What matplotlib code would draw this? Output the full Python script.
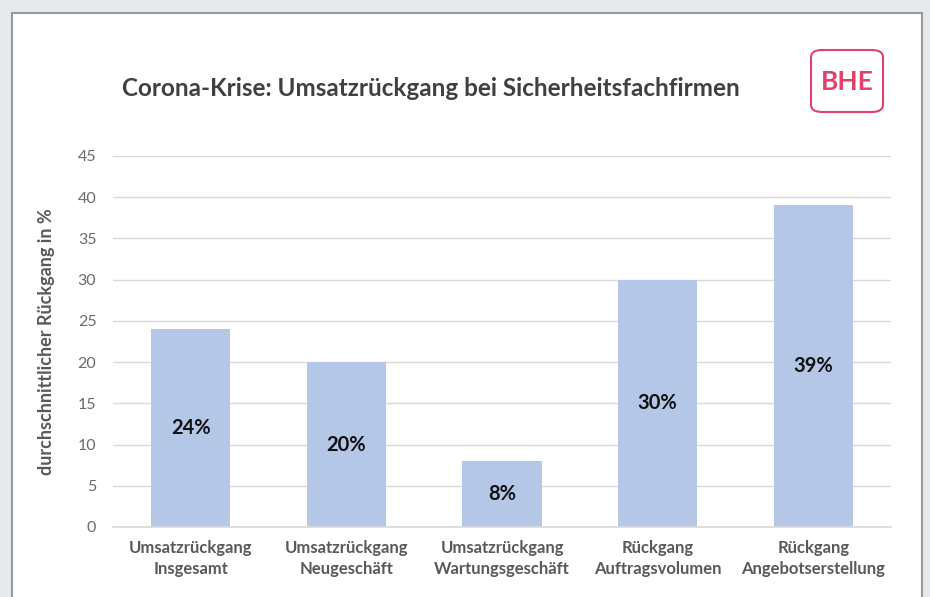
import numpy as np
import matplotlib.pyplot as plt
from matplotlib.patches import Rectangle, FancyBboxPatch

# Data
categories = ['Umsatzrückgang\nInsgesamt', 'Umsatzrückgang\nNeugeschäft',
              'Umsatzrückgang\nWartungsgeschäft', 'Rückgang\nAuftragsvolumen',
              'Rückgang\nAngebotserstellung']
values = [24, 20, 8, 30, 39]
value_labels = ['24%', '20%', '8%', '30%', '39%']

plt.rcParams['font.family'] = ['Lato', 'DejaVu Sans']

W, H = 930, 597
fig = plt.figure(figsize=(W / 100, H / 100), dpi=100)
fig.patch.set_facecolor('#e6e9ee')

# white panel with grey border
panel = Rectangle((12 / W, -0.05), 910 / W, 1 - 13 / H + 0.05, transform=fig.transFigure,
                  facecolor='white', edgecolor='#9a9a9a', linewidth=1.5, zorder=-5)
fig.patches.append(panel)

ax = fig.add_axes([113 / W, 1 - 527 / H, 778 / W, 371 / H])
ax.set_facecolor('none')
ax.set_zorder(2)

x = np.arange(len(categories))
ax.bar(x, values, width=0.51, color='#b4c7e7', zorder=2)
for xi, v, lab in zip(x, values, value_labels):
    ax.text(xi, v / 2, lab, ha='center', va='center', fontsize=14.5,
            fontweight='bold', color='#111111', zorder=3)

ax.set_xlim(-0.5, len(categories) - 0.5)
ax.set_ylim(0, 45)
ax.set_yticks(range(0, 46, 5))
ax.yaxis.grid(True, color='#dcd9d9', linewidth=1)
ax.set_axisbelow(True)
for s in ['top', 'right', 'left']:
    ax.spines[s].set_visible(False)
ax.spines['bottom'].set_color('#d9d9d9')
ax.spines['bottom'].set_linewidth(1.2)
ax.tick_params(axis='both', length=0, colors='#595959')
ax.tick_params(axis='y', pad=12, labelsize=11.5)
ax.tick_params(axis='x', pad=9, labelsize=12)
ax.set_xticks(x)
ax.set_xticklabels(categories, fontweight='bold', color='#595959', linespacing=1.4)
for t in ax.get_yticklabels():
    t.set_color('#6a6a6a')

ax.set_ylabel('durchschnittlicher Rückgang in %', fontsize=13, fontweight='bold',
              color='#595959', labelpad=16)

fig.text(122 / W, 1 - 89 / H, 'Corona-Krise: Umsatzrückgang bei Sicherheitsfachfirmen',
         fontsize=17.5, fontweight='bold', color='#404040', va='center', ha='left')

# BHE logo
logo = FancyBboxPatch((811 / W, 1 - 112 / H), 72 / W, 62 / H,
                      boxstyle='round,pad=0,rounding_size=0.012',
                      transform=fig.transFigure, facecolor='white',
                      edgecolor='#e0426a', linewidth=1.5)
fig.patches.append(logo)
fig.text(847 / W, 1 - 82 / H, 'BHE', fontsize=19, fontweight='bold', color='#e0426a',
         ha='center', va='center')

fig.savefig('out.png', dpi=100, facecolor=fig.get_facecolor())
